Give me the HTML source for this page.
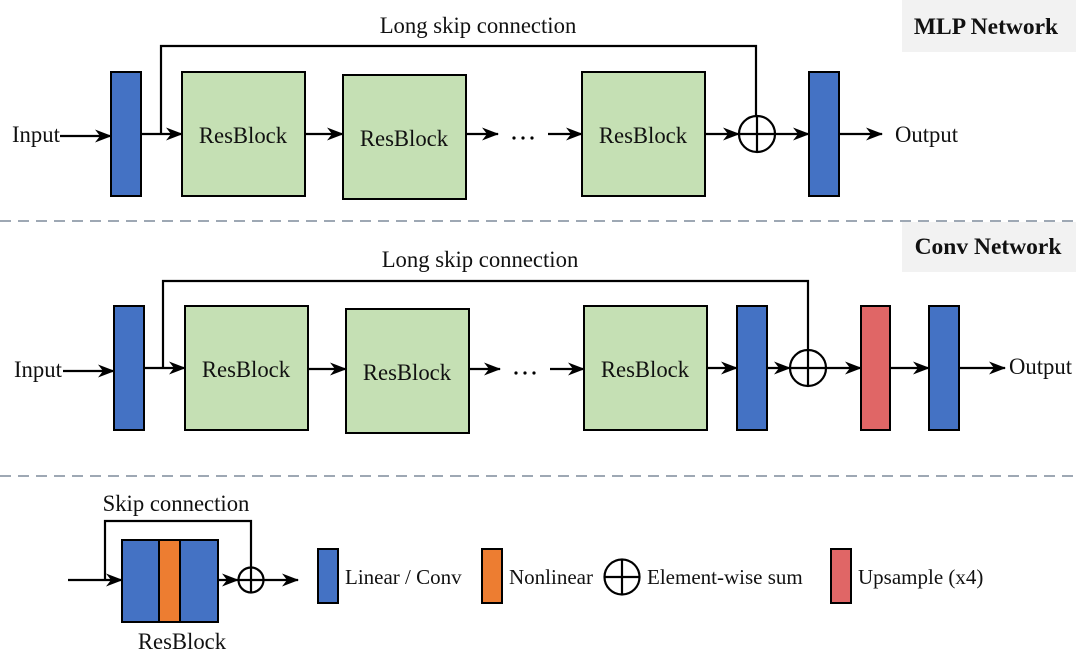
<!DOCTYPE html>
<html><head><meta charset="utf-8"><style>
html,body{margin:0;padding:0;background:#fff}
svg{display:block}
text{font-family:"Liberation Serif",serif;fill:#111}
</style></head><body>
<svg width="1076" height="661" viewBox="0 0 1076 661" xmlns="http://www.w3.org/2000/svg">
<defs>
<marker id="a" markerUnits="userSpaceOnUse" markerWidth="18" markerHeight="14" refX="16" refY="7" orient="auto">
<path d="M0,0.5 L17,7 L0,13.5 L5,7 z" fill="#000"/>
</marker>
</defs>
<g stroke="#000" stroke-width="2.2" fill="none">
<!-- MLP -->
<rect x="111" y="72" width="30" height="124" fill="#4472c4" stroke-width="2"/>
<rect x="182" y="72" width="123" height="124" fill="#c5e0b4" stroke-width="2"/>
<rect x="343" y="75" width="123" height="124" fill="#c5e0b4" stroke-width="2"/>
<rect x="582" y="72" width="123" height="124" fill="#c5e0b4" stroke-width="2"/>
<rect x="809" y="72" width="30" height="124" fill="#4472c4" stroke-width="2"/>
<circle cx="757" cy="134" r="18" fill="#fff"/>
<line x1="739" y1="134" x2="775" y2="134"/><line x1="757" y1="116" x2="757" y2="152"/>
<line x1="60" y1="136" x2="111" y2="136" marker-end="url(#a)"/>
<line x1="141" y1="134" x2="182" y2="134" marker-end="url(#a)"/>
<line x1="305" y1="134" x2="343" y2="134" marker-end="url(#a)"/>
<line x1="466" y1="134" x2="498" y2="134" marker-end="url(#a)"/>
<line x1="548" y1="134" x2="582" y2="134" marker-end="url(#a)"/>
<line x1="705" y1="134" x2="739" y2="134" marker-end="url(#a)"/>
<line x1="775" y1="134" x2="809" y2="134" marker-end="url(#a)"/>
<line x1="839" y1="134" x2="882" y2="134" marker-end="url(#a)"/>
<polyline points="161,134 161,46 756,46 756,116"/>
<!-- Conv -->
<rect x="114" y="306" width="30" height="124" fill="#4472c4" stroke-width="2"/>
<rect x="185" y="306" width="123" height="124" fill="#c5e0b4" stroke-width="2"/>
<rect x="346" y="309" width="123" height="124" fill="#c5e0b4" stroke-width="2"/>
<rect x="584" y="306" width="123" height="124" fill="#c5e0b4" stroke-width="2"/>
<rect x="737" y="306" width="30" height="124" fill="#4472c4" stroke-width="2"/>
<rect x="861" y="306" width="29" height="124" fill="#e06666" stroke-width="2"/>
<rect x="929" y="306" width="30" height="124" fill="#4472c4" stroke-width="2"/>
<circle cx="808" cy="368" r="18" fill="#fff"/>
<line x1="790" y1="368" x2="826" y2="368"/><line x1="808" y1="350" x2="808" y2="386"/>
<line x1="63" y1="371" x2="114" y2="371" marker-end="url(#a)"/>
<line x1="144" y1="368" x2="185" y2="368" marker-end="url(#a)"/>
<line x1="308" y1="369" x2="346" y2="369" marker-end="url(#a)"/>
<line x1="469" y1="369" x2="500" y2="369" marker-end="url(#a)"/>
<line x1="550" y1="369" x2="584" y2="369" marker-end="url(#a)"/>
<line x1="707" y1="368" x2="737" y2="368" marker-end="url(#a)"/>
<line x1="767" y1="368" x2="790" y2="368" marker-end="url(#a)"/>
<line x1="826" y1="368" x2="861" y2="368" marker-end="url(#a)"/>
<line x1="890" y1="368" x2="929" y2="368" marker-end="url(#a)"/>
<line x1="959" y1="368" x2="1005" y2="368" marker-end="url(#a)"/>
<polyline points="163,368 163,281 808,281 808,350"/>
<!-- legend -->
<rect x="122" y="540" width="37" height="82" fill="#4472c4" stroke-width="2"/>
<rect x="159" y="540" width="21" height="82" fill="#ed7d31" stroke-width="2"/>
<rect x="180" y="540" width="38" height="82" fill="#4472c4" stroke-width="2"/>
<line x1="68" y1="580" x2="122" y2="580" marker-end="url(#a)"/>
<line x1="218" y1="580" x2="238" y2="580" marker-end="url(#a)"/>
<polyline points="105,580 105,521 251,521 251,568"/>
<circle cx="251" cy="580" r="12.5" fill="#fff"/>
<line x1="238.5" y1="580" x2="263.5" y2="580"/><line x1="251" y1="567.5" x2="251" y2="592.5"/>
<line x1="263" y1="580" x2="298" y2="580" marker-end="url(#a)"/>
<rect x="318" y="549" width="20" height="54" fill="#4472c4" stroke-width="2"/>
<rect x="482" y="549" width="20" height="54" fill="#ed7d31" stroke-width="2"/>
<rect x="831" y="549" width="20" height="54" fill="#e06666" stroke-width="2"/>
<circle cx="622" cy="577" r="17.5" fill="#fff"/>
<line x1="604.5" y1="577" x2="639.5" y2="577"/><line x1="622" y1="559.5" x2="622" y2="594.5"/>
</g>
<g fill="#000">
<circle cx="514" cy="138" r="1.6"/><circle cx="523" cy="138" r="1.6"/><circle cx="532" cy="138" r="1.6"/>
<circle cx="516" cy="373" r="1.6"/><circle cx="525" cy="373" r="1.6"/><circle cx="534" cy="373" r="1.6"/>
</g>
<g stroke="#7f8c9c" stroke-width="1.6" stroke-dasharray="11,7">
<line x1="0" y1="221" x2="1076" y2="221"/>
<line x1="0" y1="476" x2="1076" y2="476"/>
</g>
<rect x="902" y="0" width="174" height="52" fill="#f2f2f2"/>
<rect x="902" y="222" width="174" height="50" fill="#f2f2f2"/>
<text x="986" y="34" font-size="23.5" font-weight="bold" text-anchor="middle">MLP Network</text>
<text x="988" y="254" font-size="23.5" font-weight="bold" text-anchor="middle">Conv Network</text>
<g font-size="22.7">
<text x="478" y="33" text-anchor="middle">Long skip connection</text>
<text x="480" y="267" text-anchor="middle">Long skip connection</text>
<text x="12" y="142">Input</text>
<text x="895" y="142">Output</text>
<text x="14" y="377">Input</text>
<text x="1009" y="374">Output</text>
<text x="243" y="143" text-anchor="middle">ResBlock</text>
<text x="404" y="146" text-anchor="middle">ResBlock</text>
<text x="643" y="143" text-anchor="middle">ResBlock</text>
<text x="246" y="377" text-anchor="middle">ResBlock</text>
<text x="407" y="380" text-anchor="middle">ResBlock</text>
<text x="645" y="377" text-anchor="middle">ResBlock</text>
<text x="176" y="511" text-anchor="middle">Skip connection</text>
<text x="182" y="649" text-anchor="middle">ResBlock</text>
</g>
<g font-size="21">
<text x="345" y="584">Linear / Conv</text>
<text x="509" y="584">Nonlinear</text>
<text x="647" y="584">Element-wise sum</text>
<text x="858" y="584">Upsample (x4)</text>
</g>
</svg>
</body></html>
